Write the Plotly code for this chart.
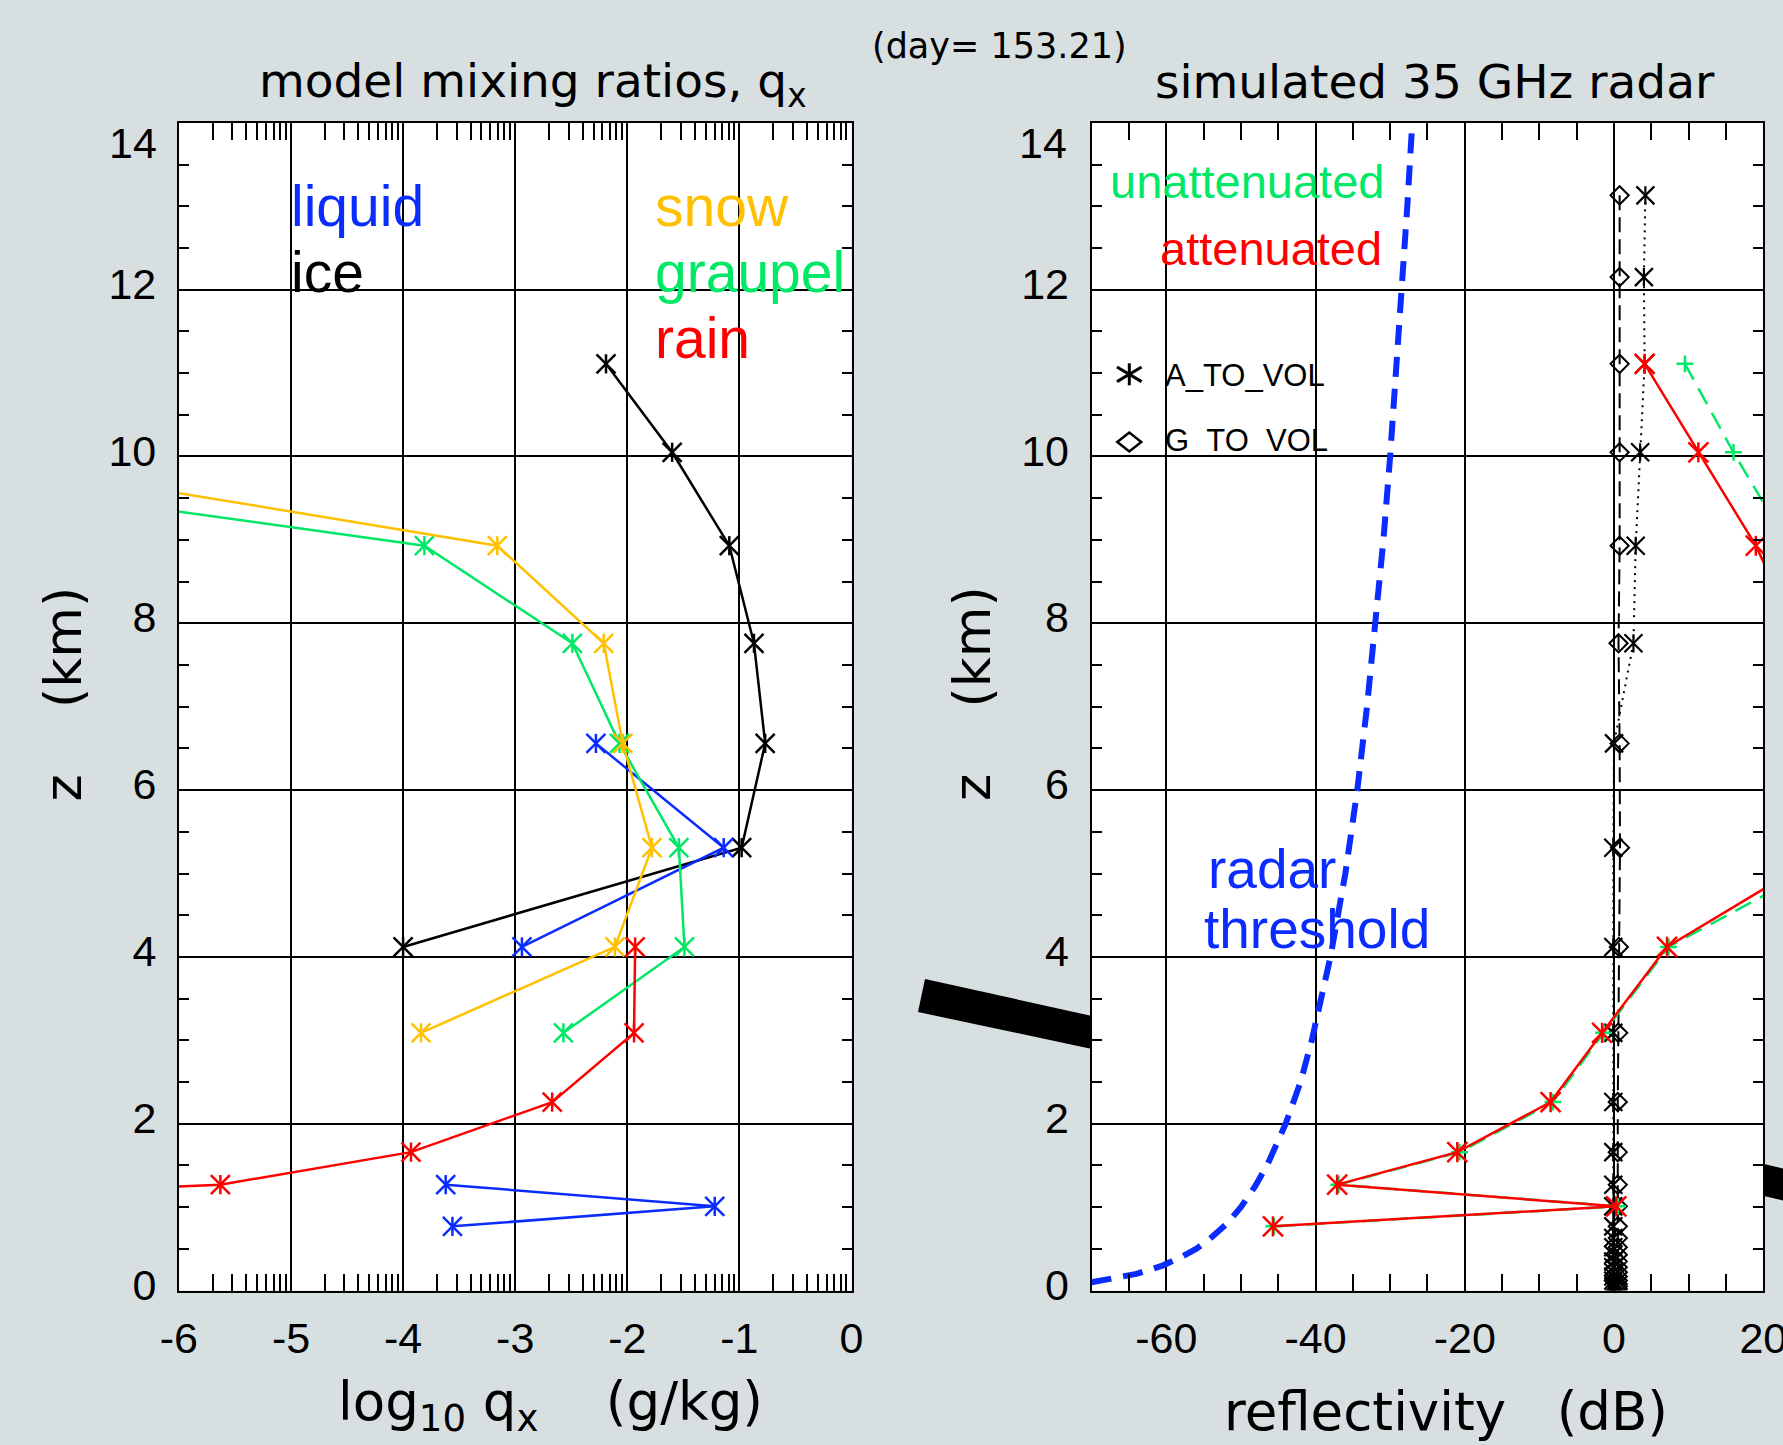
import math
import plotly.graph_objects as go

W, H = 1783, 1445

# ---------------- Left panel: log10 mixing ratio (g/kg) vs height z (km) ----------------
ice_z = [11.11, 10.05, 8.93, 7.76, 6.56, 5.31, 4.12]
ice_q = [-2.19, -1.60, -1.09, -0.87, -0.77, -0.98, -4.00]

liquid_z = [6.56, 5.31, 4.12, None, 1.27, 1.01, 0.77]
liquid_q = [-2.28, -1.14, -2.94, None, -3.62, -1.22, -3.56]

graupel_z = [10.05, 8.93, 7.76, 6.56, 5.31, 4.12, 3.09]
graupel_q = [-9.80, -3.81, -2.49, -2.07, -1.54, -1.49, -2.57]

snow_z = [10.05, 8.93, 7.76, 6.56, 5.31, 4.12, 3.09]
snow_q = [-8.20, -3.16, -2.21, -2.04, -1.78, -2.11, -3.84]

rain_z = [4.12, 3.09, 2.26, 1.66, 1.27, 1.01]
rain_q = [-1.93, -1.94, -2.67, -3.93, -5.63, -10.2]

# ---------------- Right panel: simulated 35 GHz reflectivity (dB) ----------------
radar_z = [13.13, 12.15, 11.11, 10.05, 8.93, 7.76, 6.56, 5.31, 4.12, 3.09, 2.26, 1.66, 1.27,
           1.01, 0.77, 0.63, 0.52, 0.43, 0.35, 0.28, 0.22, 0.17, 0.12, 0.08, 0.05, 0.02]
a_to_vol = [4.2, 4.0, 4.1, 3.5, 2.9, 2.6, 0.0, -0.1, -0.1, -0.1, -0.1, -0.1, -0.1,
            -0.1, -0.1, -0.1, -0.1, -0.1, -0.1, -0.1, -0.1, -0.1, -0.1, -0.1, -0.1, -0.1]
g_to_vol = [0.75, 0.75, 0.75, 0.75, 0.75, 0.6, 0.75, 0.8, 0.65, 0.55, 0.5, 0.5, 0.5,
            0.5, 0.5, 0.5, 0.5, 0.5, 0.5, 0.5, 0.5, 0.5, 0.5, 0.5, 0.5, 0.5]

refl_z = [11.11, 10.05, 8.93, 7.76, 6.56, 5.31, 4.12, 3.09, 2.26, 1.66, 1.27, 1.01, 0.77]
attenuated_db = [4.1, 11.3, 19.0, 25.1, 28.5, 29.3, 7.1, -1.6, -8.5, -21.0, -37.1, 0.3, -45.7]
unattenuated_db = [9.5, 16.0, 23.4, 30.0, 34.0, 32.0, 7.3, -1.4, -8.2, -20.7, -36.9, 0.5, -45.6]

threshold_z = [0.10, 0.15, 0.20, 0.30, 0.40, 0.50, 0.60, 0.80, 1.00, 1.25, 1.50, 2.00, 2.50,
               3.00, 4.00, 5.00, 6.00, 7.00, 8.00, 9.00, 10.0, 11.0, 12.0, 13.0, 13.9]
threshold_db = [-70.0, -66.5, -64.0, -60.5, -58.0, -56.0, -54.4, -51.9, -50.0, -48.1, -46.5,
                -44.0, -42.0, -40.5, -38.0, -36.0, -34.4, -33.1, -31.9, -30.9, -30.0, -29.2,
                -28.4, -27.7, -27.1]

# tick labels
left_xticks = [-6, -5, -4, -3, -2, -1, 0]
left_xtext = ["-6", "-5", "-4", "-3", "-2", "-1", "0"]
right_xticks = [-60, -40, -20, 0, 20]
right_xtext = ["-60", "-40", "-20", "0", "20"]
zticks = [0, 2, 4, 6, 8, 10, 12]
ztext = ["0", "2", "4", "6", "8", "10", "12"]

# ---------------- style ----------------
C_BLUE = "#0a2cff"
C_SNOW = "#ffc000"
C_GRAUPEL = "#00e866"
C_RAIN = "#ff0000"
C_BG = "#d7dfe1"
TICK_FONT = "Liberation Sans, Arial, sans-serif"
TITLE_FONT = "DejaVu Sans, Verdana, sans-serif"


def fx(x):
    return x / W


def fy(y):
    return 1 - y / H


L_DOM_X = [fx(178.9), fx(851.5)]
R_DOM_X = [fx(1091.6), fx(1763.3)]
DOM_Y = [fy(1290.6), fy(122.8)]

fig = go.Figure()


def add_star_series(v, z, color, xa, ya, dash="solid", lw=2.5, size=19, with_line=True):
    fig.add_trace(go.Scatter(
        x=v, y=z, mode="lines+markers" if with_line else "markers",
        xaxis=xa, yaxis=ya, connectgaps=False,
        line=dict(color=color, width=lw, dash=dash),
        marker=dict(symbol="x-thin-open", size=size, color=color,
                    line=dict(color=color, width=lw)),
        showlegend=False, hoverinfo="skip"))
    fig.add_trace(go.Scatter(
        x=v, y=z, mode="markers", xaxis=xa, yaxis=ya,
        marker=dict(symbol="line-ns-open", size=size * 0.72, color=color,
                    line=dict(color=color, width=lw)),
        showlegend=False, hoverinfo="skip"))


# left panel
add_star_series(ice_q, ice_z, "black", "x", "y")
add_star_series(liquid_q, liquid_z, C_BLUE, "x", "y")
add_star_series(graupel_q, graupel_z, C_GRAUPEL, "x", "y")
add_star_series(snow_q, snow_z, C_SNOW, "x", "y")
add_star_series(rain_q, rain_z, C_RAIN, "x", "y")

# right panel
fig.add_trace(go.Scatter(
    x=threshold_db, y=threshold_z, mode="lines", xaxis="x2", yaxis="y2",
    line=dict(color=C_BLUE, width=6, dash="20px,12px"),
    showlegend=False, hoverinfo="skip"))
fig.add_trace(go.Scatter(
    x=g_to_vol, y=radar_z, mode="lines+markers", xaxis="x2", yaxis="y2",
    line=dict(color="black", width=2, dash="15px,7px"),
    marker=dict(symbol="diamond-open", size=14, color="black", line=dict(color="black", width=2)),
    showlegend=False, hoverinfo="skip"))
fig.add_trace(go.Scatter(
    x=a_to_vol, y=radar_z, mode="lines", xaxis="x2", yaxis="y2",
    line=dict(color="black", width=2, dash="2px,5px"),
    showlegend=False, hoverinfo="skip"))
add_star_series(a_to_vol, radar_z, "black", "x2", "y2", lw=2.2, size=18, with_line=False)
fig.add_trace(go.Scatter(
    x=unattenuated_db, y=refl_z, mode="lines+markers", xaxis="x2", yaxis="y2",
    line=dict(color=C_GRAUPEL, width=2.5, dash="18px,10px"),
    marker=dict(symbol="cross-thin-open", size=12, color=C_GRAUPEL,
                line=dict(color=C_GRAUPEL, width=2.5)),
    showlegend=False, hoverinfo="skip"))
add_star_series(attenuated_db, refl_z, C_RAIN, "x2", "y2", size=20)

# ---------------- axes ----------------
minor_log = [d + math.log10(k) for d in range(-6, 0) for k in range(2, 10)]

common = dict(showline=True, linecolor="black", linewidth=2, mirror="allticks",
              showgrid=True, gridcolor="black", gridwidth=1.5, zeroline=False,
              ticks="inside", tickcolor="black", tickwidth=1.5, automargin=False,
              ticklabeloverflow="allow",
              tickfont=dict(family=TICK_FONT, size=43, color="black"))

xcommon = dict(common, ticklen=17, ticklabelstandoff=9)
ycommon = dict(common, ticklen=10, ticklabelstandoff=12, ticklabelshift=-6,
               range=[0, 14], domain=DOM_Y,
               tickmode="array", tickvals=zticks, ticktext=ztext,
               minor=dict(tick0=0, dtick=0.5, ticks="inside", ticklen=10, tickwidth=1.5,
                          tickcolor="black", showgrid=False))

fig.update_layout(
    xaxis=dict(xcommon, domain=L_DOM_X, range=[-6, 0], anchor="y",
               tickmode="array", tickvals=left_xticks, ticktext=left_xtext,
               minor=dict(tickmode="array", tickvals=minor_log, ticks="inside", ticklen=17,
                          tickwidth=1.5, tickcolor="black", showgrid=False)),
    yaxis=dict(ycommon, anchor="x"),
    xaxis2=dict(xcommon, domain=R_DOM_X, range=[-70, 20], anchor="y2",
                tickmode="array", tickvals=right_xticks, ticktext=right_xtext,
                minor=dict(tick0=0, dtick=5, ticks="inside", ticklen=17,
                           tickwidth=1.5, tickcolor="black", showgrid=False)),
    yaxis2=dict(ycommon, anchor="x2"),
)

# ---------------- annotations ----------------
ann = []


def text(s, x, y, size, color="black", family=TICK_FONT, xanchor="left", angle=0):
    ann.append(dict(text=s, x=fx(x), y=fy(y), xref="paper", yref="paper", showarrow=False,
                    xanchor=xanchor, yanchor="middle", textangle=angle,
                    font=dict(family=family, size=size, color=color)))


NB = "\u00a0"
text("model mixing ratios, q<sub>x</sub>", 532.6, 83.8, 47, family=TITLE_FONT, xanchor="center")
text("simulated 35 GHz radar", 1434.5, 81.7, 47, family=TITLE_FONT, xanchor="center")
text("(day= 153.21)", 999, 46.2, 35, family=TITLE_FONT, xanchor="center")

text("log<sub>10</sub> q<sub>x</sub>" + NB * 4 + "(g/kg)", 550.6, 1405.8, 53,
     family=TITLE_FONT, xanchor="center")
text("reflectivity" + NB * 3 + "(dB)", 1446, 1411.7, 53, family=TITLE_FONT, xanchor="center")
text("z" + NB * 4 + "(km)", 62.5, 694, 52, family=TITLE_FONT, xanchor="center", angle=-90)
text("z" + NB * 4 + "(km)", 972, 694, 52, family=TITLE_FONT, xanchor="center", angle=-90)

text("14", 159.2, 143.3, 43, xanchor="right")
text("14", 1069, 143.3, 43, xanchor="right")

text("liquid", 289, 206, 57, color=C_BLUE)
text("ice", 289, 272, 57, color="black")
text("snow", 652.7, 206, 57, color=C_SNOW)
text("graupel", 652.7, 272, 57, color=C_GRAUPEL)
text("rain", 652.7, 338, 57, color=C_RAIN)

text("unattenuated", 1108.3, 181.9, 47, color=C_GRAUPEL)
text("attenuated", 1157.9, 248.6, 47, color=C_RAIN)
text("radar", 1205.7, 869.0, 55, color=C_BLUE)
text("threshold", 1202.4, 929.0, 55, color=C_BLUE)
text("A_TO_VOL", 1163.3, 375.9, 31)
text("G_TO_VOL", 1163.3, 440.9, 31)

# ---------------- decorative shapes ----------------


def path(points, close=True):
    s = "M " + " L ".join(f"{fx(x):.5f},{fy(y):.5f}" for x, y in points)
    return s + (" Z" if close else "")


shapes = []
# thick black bar behind the right panel (visible parts only)
for pts in ([(925, 979), (1092, 1016), (1092, 1049), (918, 1012)],
            [(1764, 1164), (1790, 1170), (1790, 1202), (1764, 1196)]):
    shapes.append(dict(type="path", path=path(pts), xref="paper", yref="paper",
                       fillcolor="black", line=dict(width=0), layer="below"))
# legend keys: asterisk and diamond
ax_c, ay_c = 1129.3, 374.3
for pts in ([(ax_c, ay_c - 11), (ax_c, ay_c + 11)],
            [(ax_c - 12.3, ay_c - 7.3), (ax_c + 12.3, ay_c + 7.3)],
            [(ax_c - 12.3, ay_c + 7.3), (ax_c + 12.3, ay_c - 7.3)]):
    shapes.append(dict(type="path", path=path(pts, close=False), xref="paper", yref="paper",
                       line=dict(color="black", width=3)))
dx_c, dy_c = 1129.3, 442
shapes.append(dict(type="path",
                   path=path([(dx_c - 12, dy_c), (dx_c, dy_c - 9.5), (dx_c + 12, dy_c),
                              (dx_c, dy_c + 9.5)]),
                   xref="paper", yref="paper", line=dict(color="black", width=2.5)))

fig.update_layout(
    width=W, height=H, autosize=False,
    margin=dict(l=0, r=0, t=0, b=0, pad=0, autoexpand=False),
    paper_bgcolor=C_BG, plot_bgcolor="white",
    font=dict(family=TICK_FONT, color="black"),
    showlegend=False, hovermode=False,
    annotations=ann, shapes=shapes,
)

fig.write_html(
    "out.html",
    config={"displayModeBar": False, "staticPlot": False},
    post_script="document.body.style.margin='0';document.body.style.overflow='hidden';"
                "document.body.style.background='" + C_BG + "';",
)
